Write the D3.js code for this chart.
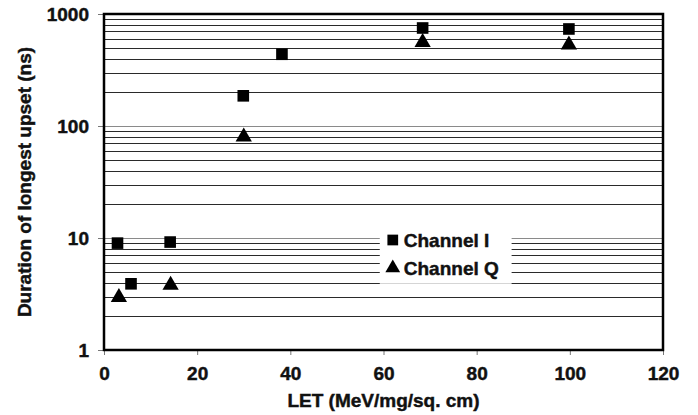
<!DOCTYPE html>
<html>
<head>
<meta charset="utf-8">
<script src="https://cdn.jsdelivr.net/npm/d3@7"></script>
<style>
  html, body { margin: 0; padding: 0; background: #fff; }
  svg { display: block; font-family: "Liberation Sans", Arial, sans-serif; }
  .lbl { font-family: "Liberation Sans", Arial, sans-serif; font-weight: bold; font-size: 19px; fill: #111; stroke: #111; stroke-width: 0.45px; }
</style>
</head>
<body>
<svg id="chart" width="698" height="415"></svg>
<script>
// Data
const letI = [2.9, 5.8, 14.2, 29.9, 38.2, 68.4, 99.8];
const durI = [9.0, 3.9, 9.2, 186, 437, 750, 735];
const letQ = [3.2, 14.3, 30.0, 68.4, 99.8];
const durQ = [2.95, 3.8, 80, 559, 530];
const xTicks = [0, 20, 40, 60, 80, 100, 120];
const yTicks = [1, 10, 100, 1000];
const seriesNames = ["Channel I", "Channel Q"];
const xTitle = "LET (MeV/mg/sq. cm)";
const yTitle = "Duration of longest upset (ns)";

const svg = d3.select("#chart");
const m = {left: 104, top: 14, right: 35, bottom: 65};
const W = 698 - m.left - m.right, H = 415 - m.top - m.bottom;
const g = svg.append("g").attr("transform", `translate(${m.left},${m.top})`);

const x = d3.scaleLinear().domain([0, 120]).range([0, W]);
const y = d3.scaleLog().domain([1, 1000]).range([H, 0]);

// grid lines at every log tick
const gridVals = y.ticks().filter(v => v > 1 && v < 1000);
g.append("g").selectAll("line").data(gridVals).join("line")
  .attr("x1", 0).attr("x2", W)
  .attr("y1", d => Math.round(y(d)) + 0.5).attr("y2", d => Math.round(y(d)) + 0.5)
  .attr("stroke", d => yTicks.includes(d) ? "#8a8a8a" : "#2a2a2a")
  .attr("stroke-width", 1);

// Axes
const xAxis = d3.axisBottom(x).tickValues(xTicks).tickSize(5).tickPadding(11);
const yAxis = d3.axisLeft(y).tickValues(yTicks).tickFormat(d3.format("d")).tickSize(6).tickPadding(9);

const gx = g.append("g").attr("transform", `translate(0,${H})`).call(xAxis);
const gy = g.append("g").call(yAxis);
[gx, gy].forEach(a => {
  a.select(".domain").remove();
  a.attr("font-family", null).attr("font-size", null);
  a.selectAll(".tick line").attr("stroke", "#777");
  a.selectAll(".tick text").attr("class", "lbl").attr("fill", null);
});
gx.selectAll(".tick text").attr("dy", "0.72em");

// frame
g.append("rect").attr("x", 0).attr("y", 0).attr("width", W).attr("height", H)
  .attr("fill", "none").attr("stroke", "#000").attr("stroke-width", 2.5);

// Legend (white box hides grid)
const lg = g.append("g").attr("transform", `translate(${x(59.2)},${y(12.8)})`);
const lgH = y(3.9) - y(12.8);
lg.append("rect").attr("x", 0).attr("y", 0).attr("width", x(28.3)).attr("height", lgH).attr("fill", "#fff");
const sym = [d3.symbolSquare, d3.symbolTriangle];
const symSize = [135, 115];
seriesNames.forEach((name, i) => {
  const row = lg.append("g").attr("transform", `translate(13,${14 + i * 28})`);
  row.append("path").attr("d", d3.symbol(sym[i], symSize[i] - 20)()).attr("fill", "#000");
  row.append("text").attr("class", "lbl").attr("x", 11).attr("y", 7).text(name);
});

// Markers
const dataI = letI.map((v, i) => [v, durI[i]]);
const dataQ = letQ.map((v, i) => [v, durQ[i]]);
g.append("g").selectAll("path").data(dataI).join("path")
  .attr("transform", d => `translate(${x(d[0])},${y(d[1])})`)
  .attr("d", d3.symbol(d3.symbolSquare, symSize[0])()).attr("fill", "#000");
g.append("g").selectAll("path").data(dataQ).join("path")
  .attr("transform", d => `translate(${x(d[0])},${y(d[1])})`)
  .attr("d", d3.symbol(d3.symbolTriangle, symSize[1])()).attr("fill", "#000");

// Axis titles
svg.append("text").attr("class", "lbl").attr("x", m.left + x(60)).attr("y", 407)
  .attr("text-anchor", "middle").text(xTitle);
svg.append("text").attr("class", "lbl").attr("transform", `translate(31,182) rotate(-90)`)
  .attr("text-anchor", "middle").text(yTitle);
</script>
</body>
</html>
